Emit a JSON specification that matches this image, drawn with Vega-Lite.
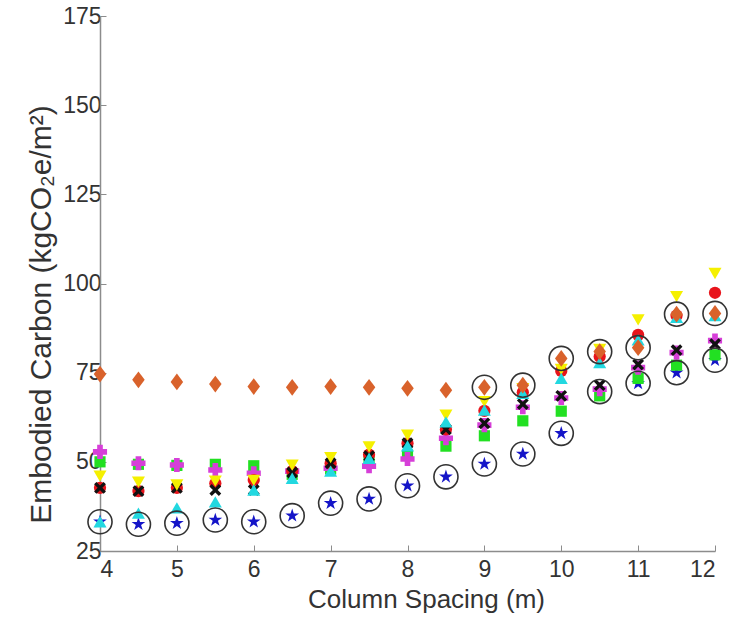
{
  "$schema": "https://vega.github.io/schema/vega-lite/v6.json",
  "width": 615,
  "height": 535,
  "autosize": {"type": "none"},
  "padding": {"left": 100, "top": 16, "right": 29, "bottom": 69},
  "background": "white",
  "config": {
    "view": {"stroke": null},
    "font": "Liberation Sans",
    "axis": {
      "grid": false,
      "domainColor": "#8c8c8c",
      "domainWidth": 1.5,
      "tickColor": "#8c8c8c",
      "tickSize": -6,
      "tickWidth": 1,
      "labelColor": "#333333",
      "labelFont": "Liberation Sans",
      "labelFontSize": 23,
      "titleColor": "#333333",
      "titleFont": "Liberation Sans",
      "titleFontWeight": "normal"
    }
  },
  "datasets": {
    "pts": [
      {"x": 4, "y": 33.2, "s": "star"}, {"x": 4.5, "y": 32.5, "s": "star"}, {"x": 5, "y": 32.8, "s": "star"}, {"x": 5.5, "y": 33.7, "s": "star"}, {"x": 6, "y": 33.2, "s": "star"}, {"x": 6.5, "y": 34.9, "s": "star"}, {"x": 7, "y": 38.4, "s": "star"}, {"x": 7.5, "y": 39.6, "s": "star"}, {"x": 8, "y": 43.3, "s": "star"}, {"x": 8.5, "y": 45.8, "s": "star"}, {"x": 9, "y": 49.4, "s": "star"}, {"x": 9.5, "y": 52.2, "s": "star"}, {"x": 10, "y": 58.0, "s": "star"}, {"x": 10.5, "y": 69.7, "s": "star"}, {"x": 11, "y": 72.0, "s": "star"}, {"x": 11.5, "y": 75.0, "s": "star"}, {"x": 12, "y": 78.5, "s": "star"},
      {"x": 4, "y": 50.0, "s": "square"}, {"x": 4.5, "y": 49.3, "s": "square"}, {"x": 5, "y": 49.0, "s": "square"}, {"x": 5.5, "y": 49.3, "s": "square"}, {"x": 6, "y": 48.9, "s": "square"}, {"x": 6.5, "y": 46.5, "s": "square"}, {"x": 7, "y": 48.0, "s": "square"}, {"x": 7.5, "y": 50.0, "s": "square"}, {"x": 8, "y": 51.9, "s": "square"}, {"x": 8.5, "y": 54.4, "s": "square"}, {"x": 9, "y": 57.3, "s": "square"}, {"x": 9.5, "y": 61.5, "s": "square"}, {"x": 10, "y": 64.2, "s": "square"}, {"x": 10.5, "y": 68.5, "s": "square"}, {"x": 11, "y": 73.4, "s": "square"}, {"x": 11.5, "y": 77.1, "s": "square"}, {"x": 12, "y": 80.0, "s": "square"},
      {"x": 4, "y": 52.8, "s": "plus"}, {"x": 4.5, "y": 49.6, "s": "plus"}, {"x": 5, "y": 49.1, "s": "plus"}, {"x": 5.5, "y": 47.7, "s": "plus"}, {"x": 6, "y": 46.8, "s": "plus"}, {"x": 6.5, "y": 47.4, "s": "plus"}, {"x": 7, "y": 48.2, "s": "plus"}, {"x": 7.5, "y": 48.8, "s": "plus"}, {"x": 8, "y": 50.8, "s": "plus"}, {"x": 8.5, "y": 56.6, "s": "plus"}, {"x": 9, "y": 60.3, "s": "plus"}, {"x": 9.5, "y": 65.3, "s": "plus"}, {"x": 10, "y": 67.9, "s": "plus"}, {"x": 10.5, "y": 70.4, "s": "plus"}, {"x": 11, "y": 76.4, "s": "plus"}, {"x": 11.5, "y": 80.6, "s": "plus"}, {"x": 12, "y": 84.0, "s": "plus"},
      {"x": 4, "y": 42.7, "s": "dot"}, {"x": 4.5, "y": 41.8, "s": "dot"}, {"x": 5, "y": 42.7, "s": "dot"}, {"x": 5.5, "y": 44.0, "s": "dot"}, {"x": 6, "y": 44.9, "s": "dot"}, {"x": 6.5, "y": 47.4, "s": "dot"}, {"x": 7, "y": 49.6, "s": "dot"}, {"x": 7.5, "y": 52.0, "s": "dot"}, {"x": 8, "y": 55.2, "s": "dot"}, {"x": 8.5, "y": 59.1, "s": "dot"}, {"x": 9, "y": 64.3, "s": "dot"}, {"x": 9.5, "y": 69.5, "s": "dot"}, {"x": 10, "y": 75.5, "s": "dot"}, {"x": 10.5, "y": 79.5, "s": "dot"}, {"x": 11, "y": 85.6, "s": "dot"}, {"x": 11.5, "y": 91.0, "s": "dot"}, {"x": 12, "y": 97.4, "s": "dot"},
      {"x": 4, "y": 42.7, "s": "xmark"}, {"x": 4.5, "y": 41.8, "s": "xmark"}, {"x": 5, "y": 42.7, "s": "xmark"}, {"x": 5.5, "y": 42.1, "s": "xmark"}, {"x": 6, "y": 42.1, "s": "xmark"}, {"x": 6.5, "y": 47.0, "s": "xmark"}, {"x": 7, "y": 49.6, "s": "xmark"}, {"x": 7.5, "y": 51.6, "s": "xmark"}, {"x": 8, "y": 55.2, "s": "xmark"}, {"x": 8.5, "y": 59.1, "s": "xmark"}, {"x": 9, "y": 60.8, "s": "xmark"}, {"x": 9.5, "y": 66.2, "s": "xmark"}, {"x": 10, "y": 68.5, "s": "xmark"}, {"x": 10.5, "y": 71.5, "s": "xmark"}, {"x": 11, "y": 77.3, "s": "xmark"}, {"x": 11.5, "y": 81.3, "s": "xmark"}, {"x": 12, "y": 83.0, "s": "xmark"},
      {"x": 4, "y": 46.0, "s": "tridown"}, {"x": 4.5, "y": 44.3, "s": "tridown"}, {"x": 5, "y": 43.5, "s": "tridown"}, {"x": 5.5, "y": 44.6, "s": "tridown"}, {"x": 6, "y": 44.8, "s": "tridown"}, {"x": 6.5, "y": 49.1, "s": "tridown"}, {"x": 7, "y": 51.2, "s": "tridown"}, {"x": 7.5, "y": 54.2, "s": "tridown"}, {"x": 8, "y": 57.5, "s": "tridown"}, {"x": 8.5, "y": 63.1, "s": "tridown"}, {"x": 9, "y": 66.9, "s": "tridown"}, {"x": 9.5, "y": 70.5, "s": "tridown"}, {"x": 10, "y": 75.9, "s": "tridown"}, {"x": 10.5, "y": 81.5, "s": "tridown"}, {"x": 11, "y": 89.8, "s": "tridown"}, {"x": 11.5, "y": 96.3, "s": "tridown"}, {"x": 12, "y": 102.8, "s": "tridown"},
      {"x": 4, "y": 33.2, "s": "triup"}, {"x": 4.5, "y": 35.6, "s": "triup"}, {"x": 5, "y": 37.1, "s": "triup"}, {"x": 5.5, "y": 38.8, "s": "triup"}, {"x": 6, "y": 42.1, "s": "triup"}, {"x": 6.5, "y": 45.4, "s": "triup"}, {"x": 7, "y": 47.4, "s": "triup"}, {"x": 7.5, "y": 51.0, "s": "triup"}, {"x": 8, "y": 54.5, "s": "triup"}, {"x": 8.5, "y": 61.2, "s": "triup"}, {"x": 9, "y": 64.5, "s": "triup"}, {"x": 9.5, "y": 69.2, "s": "triup"}, {"x": 10, "y": 73.4, "s": "triup"}, {"x": 10.5, "y": 77.8, "s": "triup"}, {"x": 11, "y": 84.2, "s": "triup"}, {"x": 11.5, "y": 90.5, "s": "triup"}, {"x": 12, "y": 91.0, "s": "triup"},
      {"x": 4, "y": 74.6, "s": "diamond"}, {"x": 4.5, "y": 73.0, "s": "diamond"}, {"x": 5, "y": 72.4, "s": "diamond"}, {"x": 5.5, "y": 71.8, "s": "diamond"}, {"x": 6, "y": 71.1, "s": "diamond"}, {"x": 6.5, "y": 70.9, "s": "diamond"}, {"x": 7, "y": 71.1, "s": "diamond"}, {"x": 7.5, "y": 70.9, "s": "diamond"}, {"x": 8, "y": 70.6, "s": "diamond"}, {"x": 8.5, "y": 70.1, "s": "diamond"}, {"x": 9, "y": 70.9, "s": "diamond"}, {"x": 9.5, "y": 71.5, "s": "diamond"}, {"x": 10, "y": 79.0, "s": "diamond"}, {"x": 10.5, "y": 80.9, "s": "diamond"}, {"x": 11, "y": 82.0, "s": "diamond"}, {"x": 11.5, "y": 91.4, "s": "diamond"}, {"x": 12, "y": 91.6, "s": "diamond"}
    ],
    "rings": [
      {"x": 4, "y": 33.2}, {"x": 4.5, "y": 32.5}, {"x": 5, "y": 32.8}, {"x": 5.5, "y": 33.7}, {"x": 6, "y": 33.2}, {"x": 6.5, "y": 34.9}, {"x": 7, "y": 38.4}, {"x": 7.5, "y": 39.6}, {"x": 8, "y": 43.3}, {"x": 8.5, "y": 45.8}, {"x": 9, "y": 49.4}, {"x": 9.5, "y": 52.2}, {"x": 10, "y": 58.0}, {"x": 10.5, "y": 69.7}, {"x": 11, "y": 72.0}, {"x": 11.5, "y": 75.0}, {"x": 12, "y": 78.5},
      {"x": 9, "y": 70.9}, {"x": 9.5, "y": 71.5}, {"x": 10, "y": 79.0}, {"x": 10.5, "y": 80.9}, {"x": 11, "y": 82.0}, {"x": 11.5, "y": 91.4}, {"x": 12, "y": 91.6}
    ]
  },
  "encoding": {
    "x": {
      "field": "x", "type": "quantitative",
      "scale": {"domain": [4, 12], "nice": false, "zero": false},
      "axis": {
        "values": [4, 5, 6, 7, 8, 9, 10, 11, 12],
        "title": "Column Spacing (m)",
        "titleFontSize": 26,
        "labelPadding": 13,
        "titleX": 326,
        "titleY": 48,
        "titleAnchor": null,
        "titleAlign": "center",
        "titleBaseline": "middle"
      }
    },
    "y": {
      "field": "y", "type": "quantitative",
      "scale": {"domain": [25, 175], "nice": false, "zero": false},
      "axis": {
        "values": [25, 50, 75, 100, 125, 150, 175],
        "title": "Embodied Carbon (kgCO₂e/m²)",
        "titleFontSize": 30,
        "labelPadding": 5,
        "titleX": -59,
        "titleY": 298,
        "titleAngle": -90,
        "titleAlign": "center",
        "titleBaseline": "middle"
      }
    }
  },
  "layer": [
    {
      "data": {"name": "pts"},
      "mark": {"type": "point", "filled": true, "opacity": 1},
      "encoding": {
        "color": {
          "field": "s", "type": "nominal", "legend": null,
          "scale": {
            "domain": ["star", "square", "plus", "dot", "xmark", "tridown", "triup", "diamond"],
            "range": ["#1414c8", "#22e022", "#d63fd8", "#e8141b", "#111111", "#f5f000", "#22d8e0", "#d9622b"]
          }
        },
        "shape": {
          "field": "s", "type": "nominal", "legend": null,
          "scale": {
            "domain": ["star", "square", "plus", "dot", "xmark", "tridown", "triup", "diamond"],
            "range": [
              "M0,-1L0.2245,-0.309L0.951,-0.309L0.363,0.118L0.588,0.809L0,0.382L-0.588,0.809L-0.363,0.118L-0.951,-0.309L-0.2245,-0.309Z",
              "square", "cross", "circle",
              "M-1,-0.6L-0.6,-1L0,-0.4L0.6,-1L1,-0.6L0.4,0L1,0.6L0.6,1L0,0.4L-0.6,1L-1,0.6L-0.4,0Z",
              "triangle-down", "triangle-up", "M0,-1L0.75,0L0,1L-0.75,0Z"
            ]
          }
        },
        "size": {
          "field": "s", "type": "nominal", "legend": null,
          "scale": {
            "type": "ordinal",
            "domain": ["star", "square", "plus", "dot", "xmark", "tridown", "triup", "diamond"],
            "range": [210, 125, 200, 150, 140, 170, 170, 280]
          }
        }
      }
    },
    {
      "data": {"name": "rings"},
      "mark": {"type": "point", "filled": false, "shape": "circle", "size": 580, "stroke": "#333333", "strokeWidth": 1.6, "opacity": 1}
    }
  ]
}
